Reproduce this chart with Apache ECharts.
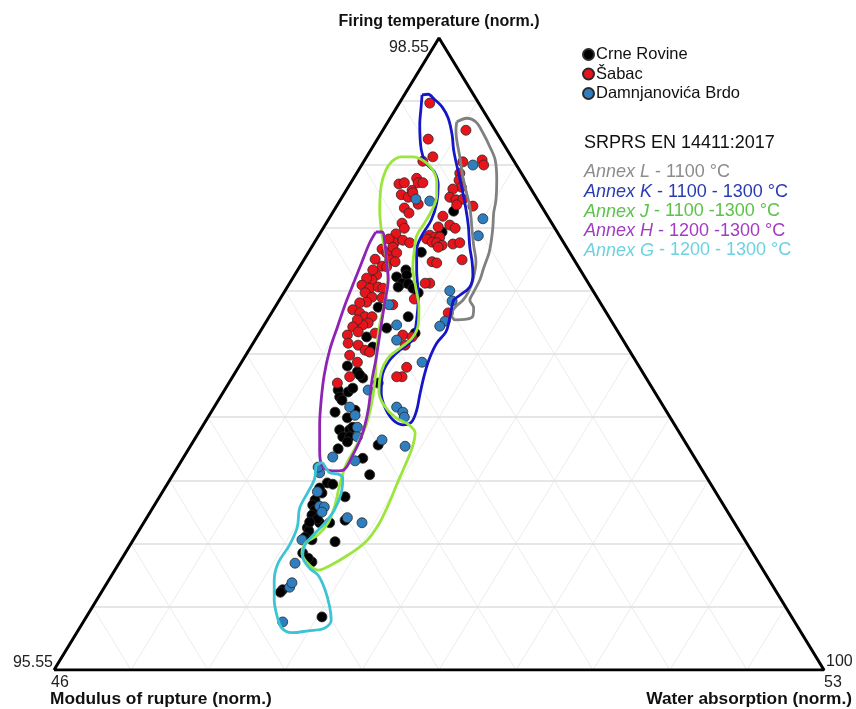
<!DOCTYPE html>
<html>
<head>
<meta charset="utf-8">
<script src="https://cdn.jsdelivr.net/npm/echarts@6/dist/echarts.min.js"></script>
<style>
  html, body { margin: 0; padding: 0; background: #fff; }
  #chart { width: 856px; height: 709px; }
</style>
</head>
<body>
<div id="chart"></div>
<script>
// Positions inside the triangle: x = % along the base, y = % of the triangle height
const crneRovine = [
  [47.7,66.1],[45.7,63.3],[45.8,62.5],[44.5,62.2],[45.2,61.2],[44.7,60.6],[46.0,61.1],[46.6,60.4],[47.3,59.7],
  [42.1,57.4],[46.0,55.9],[43.2,54.1],[46.9,53.3],[40.6,52.7],[51.9,72.6],[50.4,69.3],
  [41.4,51.1],[38.1,48.1],[39.4,47.2],[40.1,46.2],[39.7,46.7],[36.9,44.3],[37.1,43.2],[38.2,44.0],[38.8,44.6],
  [37.4,42.7],[36.5,40.8],[37.1,38.0],[38.4,38.0],[38.8,38.4],[37.5,36.9],[38.4,36.9],[38.1,36.1],[36.9,35.0],
  [40.1,33.5],[41.0,30.9],[42.1,35.6],[42.1,45.4],[38.1,39.9],[39.1,41.1],
  [35.5,29.6],[36.2,29.4],[34.8,28.0],[33.9,26.9],[33.6,26.1],[33.9,25.3],[33.5,24.5],[34.5,23.3],[32.9,22.5],
  [33.1,22.0],[32.6,21.0],[33.5,20.6],[35.8,23.3],[37.8,27.4],[37.8,23.7],[36.5,20.3],[32.3,18.5],[33.5,17.1],
  [33.0,17.7],[29.7,12.7],[29.4,12.3],[34.8,8.4],[34.5,28.8],[34.2,23.9],[33.2,23.4]
];
const sabac = [
  [48.8,89.7],[53.5,85.4],[48.6,84.0],[49.2,81.2],[53.1,80.4],[55.6,80.7],[55.8,79.9],[47.9,80.5],
  [44.8,76.9],[45.5,77.1],[45.1,75.2],[46.0,74.8],[46.5,75.9],[46.6,75.5],[47.1,77.8],[47.3,77.1],[47.9,77.1],
  [45.5,73.1],[46.1,72.3],[47.3,73.7],[45.2,70.7],[45.5,69.9],[44.4,69.0],[44.2,67.6],[43.5,68.2],[45.3,68.0],[46.2,67.6],
  [42.6,66.6],[43.2,66.0],[44.0,66.9],[44.5,66.0],[43.6,64.9],[44.3,64.6],[42.6,63.9],[43.2,63.8],[41.7,65.0],
  [52.7,78.6],[52.6,77.5],[52.9,76.4],[51.8,76.1],[51.4,74.8],[52.2,74.4],[53.1,74.5],[52.3,73.6],[54.4,73.4],
  [50.5,71.8],[51.4,70.4],[52.1,69.9],[49.9,70.1],[48.8,68.8],[49.5,68.5],[50.1,68.5],[48.4,68.2],[49.1,67.7],
  [49.7,67.6],[50.4,67.2],[49.9,66.9],[51.8,67.4],[52.7,67.6],
  [49.1,64.6],[49.7,64.4],[53.0,64.9],[48.8,61.2],[48.2,61.2],[46.8,58.7],[51.2,56.5],
  [41.9,62.5],[41.3,61.7],[40.6,62.0],[40.0,60.9],[41.0,60.4],[42.1,60.6],[42.7,60.4],[40.4,59.7],[41.3,59.0],
  [40.6,58.2],[39.7,58.1],[42.6,58.9],[38.8,57.0],[39.7,56.5],[40.4,55.9],[41.3,55.9],[40.8,54.9],[40.1,54.6],
  [39.4,55.4],[38.8,54.3],[39.5,53.5],[38.1,53.0],[44.0,57.8],[41.4,63.3],
  [38.2,51.7],[39.5,51.4],[40.4,50.6],[41.0,50.3],[41.7,53.3],[38.4,49.8],[39.4,48.7],[36.8,45.4],[38.4,46.4],
  [45.3,53.0],[45.6,51.4],[46.5,52.7],[45.8,47.9],[45.2,46.4],[44.5,46.4]
];
const damnjanovica = [
  [47.0,74.5],[48.8,74.2],[54.4,79.9],[55.7,71.4],[55.1,68.7],[51.4,60.0],[51.7,58.4],[50.8,55.2],[50.1,54.4],
  [43.5,57.8],[44.5,54.6],[44.5,52.2],[40.8,44.3],[38.4,41.6],[39.1,40.3],[39.4,38.4],[39.4,36.9],[36.2,33.7],
  [39.1,33.1],[47.8,48.7],[44.5,41.6],[45.3,40.8],[45.5,40.0],[45.6,35.4],[42.6,36.4],[34.5,31.2],[34.2,28.2],
  [34.5,25.9],[35.1,25.8],[34.8,25.0],[32.2,20.6],[38.1,24.1],[40.0,23.3],[31.3,16.9],[30.6,13.1],[30.9,13.8],
  [29.7,7.6],[34.3,32.1]
];

// Annex outlines (same units)
const annexL = [
  [52.3,86.7],[53.6,87.3],[54.8,86.7],[55.7,85.0],[56.6,82.8],[57.3,80.7],[57.5,77.5],[57.4,74.4],[57.1,72.3],
  [57.0,70.1],[56.8,68.0],[56.5,66.0],[55.8,63.6],[55.3,61.7],[54.5,59.8],[54.0,58.5],[54.5,57.3],[54.4,56.0],
  [53.6,55.5],[52.1,55.4],[51.6,56.3],[52.1,57.4],[53.1,58.5],[53.8,59.8],[54.4,61.7],[54.8,64.6],[54.5,67.2],
  [54.3,69.6],[54.0,73.3],[53.5,75.9],[53.1,78.0],[52.7,81.2],[52.3,83.9],[52.2,85.4]
];
const annexK = [
  [47.8,91.0],[48.6,91.1],[49.4,90.3],[50.4,89.1],[51.2,87.3],[51.7,84.7],[51.9,82.3],[52.3,79.9],[52.9,76.7],
  [53.4,73.6],[53.8,70.4],[54.0,66.9],[54.3,64.6],[54.4,62.5],[54.0,60.6],[52.7,59.3],[51.9,58.5],[51.6,57.0],
  [51.3,55.1],[50.9,53.5],[49.7,51.7],[48.8,49.4],[48.1,46.7],[47.5,43.5],[47.1,41.1],[46.4,39.2],[45.3,38.8],
  [44.0,39.6],[43.0,41.5],[42.5,43.8],[42.6,46.4],[43.4,48.7],[44.9,50.6],[46.5,52.2],[47.1,55.4],[47.3,59.3],
  [47.1,63.3],[47.1,66.5],[47.8,68.8],[49.0,71.2],[49.7,73.9],[49.9,76.7],[49.4,78.8],[48.3,80.2],[47.7,82.3],
  [47.5,86.2],[47.7,89.4]
];
const annexJ = [
  [44.9,81.2],[46.6,81.2],[48.1,80.5],[49.2,79.1],[49.7,77.2],[49.7,75.0],[49.1,72.8],[48.1,70.7],[47.1,68.7],
  [46.8,66.5],[46.6,63.6],[47.0,60.4],[47.4,57.4],[47.3,54.6],[46.5,52.5],[44.9,50.9],[43.4,49.4],[42.5,47.2],
  [42.2,44.0],[42.9,41.8],[44.4,39.9],[46.1,38.8],[46.9,37.5],[46.5,35.1],[45.6,32.4],[44.5,29.3],[43.4,26.1],
  [42.1,22.9],[40.5,20.3],[38.2,18.2],[35.8,16.5],[34.3,15.8],[33.0,16.8],[32.2,18.5],[32.7,20.1],[34.3,21.4],
  [35.6,23.3],[36.5,26.1],[37.1,29.3],[37.9,32.4],[39.1,35.1],[40.4,38.3],[41.2,41.9],[41.7,45.9],[41.9,50.6],
  [42.3,54.6],[43.0,58.5],[43.4,62.5],[43.1,65.7],[42.6,68.8],[42.3,72.8],[42.5,76.7],[43.1,79.1],[43.9,80.5]
];
const annexH = [
  [41.8,69.3],[42.6,69.3],[43.0,67.2],[43.2,64.6],[43.4,61.7],[43.0,58.5],[42.6,55.4],[42.2,52.2],[41.8,49.1],
  [41.3,45.9],[40.8,41.1],[40.0,37.2],[38.8,34.0],[37.5,31.6],[36.2,31.5],[34.8,32.3],[34.5,34.8],[34.5,38.8],
  [34.7,42.7],[35.1,46.7],[35.8,50.6],[36.9,54.6],[37.8,57.8],[38.8,60.9],[40.0,64.6],[41.0,67.6]
];
const annexG = [
  [34.0,32.3],[34.8,32.8],[35.3,32.0],[35.8,31.2],[36.9,31.0],[37.5,30.4],[37.3,28.0],[36.4,25.3],[35.2,23.3],
  [33.8,21.5],[32.6,19.8],[32.3,17.9],[33.2,16.1],[34.3,15.0],[35.2,12.7],[35.8,10.0],[36.0,7.9],[35.1,6.6],
  [33.0,6.2],[30.9,5.9],[29.6,6.6],[29.0,8.4],[28.6,11.1],[28.6,14.2],[29.1,16.9],[30.6,19.8],[31.6,22.6],
  [31.9,25.6],[33.0,28.2],[33.8,30.1]
];

const seriesNames = ['Crne Rovine', 'Šabac', 'Damnjanovića Brdo'];
const standardTitle = 'SRPRS EN 14411:2017';
const annexNames = ['Annex L', 'Annex K', 'Annex J', 'Annex H', 'Annex G'];
const annexRanges = [' - 1100 °C', ' - 1100 - 1300 °C', ' - 1100 -1300 °C', ' - 1200 -1300 °C', ' - 1200 - 1300 °C'];
const axisTitles = ['Firing temperature (norm.)', 'Modulus of rupture (norm.)', 'Water absorption (norm.)'];
const cornerTicks = ['98.55', '95.55', '46', '100', '53'];

const annexOutlines = [annexL, annexK, annexJ, annexH, annexG];
const annexColors = ['#808080', '#1616c8', '#9be63c', '#8e24b4', '#3cc4d4'];
const annexTextColors = ['#8c8c8c', '#2a3ab4', '#5cc24a', '#a23cc0', '#6cd2e0'];

const FONT = '"Liberation Sans", Arial, sans-serif';
const chart = echarts.init(document.getElementById('chart'));

// light ternary grid, 10 divisions
const hGrid = [], dGrid = [];
for (let k = 1; k < 10; k++) {
  const h = k * 10;
  hGrid.push({ coords: [[h / 2, h], [100 - h / 2, h]] });
  dGrid.push({ coords: [[h, 0], [h + (100 - h) / 2, 100 - h]] });
  dGrid.push({ coords: [[h, 0], [h / 2, h]] });
}

const close = pts => pts.concat([pts[0]]);

const series = [
  {
    type: 'lines', coordinateSystem: 'cartesian2d', silent: true, z: 1,
    lineStyle: { color: '#ececec', width: 1, opacity: 1 }, data: dGrid
  },
  {
    type: 'lines', coordinateSystem: 'cartesian2d', silent: true, z: 1,
    lineStyle: { color: '#dedede', width: 1.5, opacity: 1 }, data: hGrid
  },
  {
    type: 'line', data: [[0, 0], [100, 0], [50, 100], [0, 0]], symbol: 'none', z: 2, silent: true,
    lineStyle: { color: '#000', width: 3 }
  }
];

const pointColors = ['#000000', '#e8141c', '#2f7ec0'];
[crneRovine, sabac, damnjanovica].forEach((d, i) => {
  series.push({
    name: seriesNames[i], type: 'scatter', data: d, symbolSize: 10, z: 3,
    itemStyle: { color: pointColors[i], borderColor: '#2a2a2a', borderWidth: 0.8, opacity: 1 }
  });
});

annexOutlines.forEach((pts, i) => {
  series.push({
    type: 'line', data: close(pts), symbol: 'none', smooth: 0.35, z: 4, silent: true,
    lineStyle: { color: annexColors[i], width: 2.8 }
  });
});

const graphic = [
  { type: 'text', style: { text: axisTitles[0], x: 439, y: 22, textAlign: 'center', textVerticalAlign: 'middle', font: 'bold 16px ' + FONT, fill: '#111' } },
  { type: 'text', style: { text: axisTitles[1], x: 50, y: 699, textAlign: 'left', textVerticalAlign: 'middle', font: 'bold 17.3px ' + FONT, fill: '#111' } },
  { type: 'text', style: { text: axisTitles[2], x: 852, y: 699, textAlign: 'right', textVerticalAlign: 'middle', font: 'bold 17.3px ' + FONT, fill: '#111' } },
  { type: 'text', style: { text: cornerTicks[0], x: 429, y: 48, textAlign: 'right', textVerticalAlign: 'middle', font: '16px ' + FONT, fill: '#222' } },
  { type: 'text', style: { text: cornerTicks[1], x: 53, y: 663, textAlign: 'right', textVerticalAlign: 'middle', font: '16px ' + FONT, fill: '#222' } },
  { type: 'text', style: { text: cornerTicks[2], x: 51, y: 683, textAlign: 'left', textVerticalAlign: 'middle', font: '16px ' + FONT, fill: '#222' } },
  { type: 'text', style: { text: cornerTicks[3], x: 826, y: 662, textAlign: 'left', textVerticalAlign: 'middle', font: '16px ' + FONT, fill: '#222' } },
  { type: 'text', style: { text: cornerTicks[4], x: 824, y: 683, textAlign: 'left', textVerticalAlign: 'middle', font: '16px ' + FONT, fill: '#222' } },
  { type: 'text', style: { text: standardTitle, x: 584, y: 143, textVerticalAlign: 'middle', font: '18px ' + FONT, fill: '#111' } }
];
const annexY = [172, 192, 211.5, 231, 250.5];
annexNames.forEach((n, i) => {
  graphic.push({
    type: 'text',
    style: {
      text: '{i|' + n + '}{n|' + annexRanges[i] + '}',
      x: 584, y: annexY[i], textVerticalAlign: 'middle',
      rich: {
        i: { fontStyle: 'italic', fontSize: 18, fontFamily: FONT, fill: annexTextColors[i] },
        n: { fontSize: 18, fontFamily: FONT, fill: annexTextColors[i] }
      }
    }
  });
});

chart.setOption({
  animation: false,
  backgroundColor: '#fff',
  grid: { left: 54, right: 32, top: 38, bottom: 39 },
  xAxis: { type: 'value', min: 0, max: 100, show: false },
  yAxis: { type: 'value', min: 0, max: 100, show: false },
  legend: {
    data: seriesNames,
    orient: 'vertical', left: 577, top: 41,
    icon: 'circle', itemWidth: 11, itemHeight: 11, itemGap: 2.5,
    textStyle: { fontSize: 16.5, fontFamily: FONT, color: '#111', lineHeight: 16, padding: [0, 0, 0, -3] }
  },
  graphic: graphic,
  series: series
});
</script>
</body>
</html>
